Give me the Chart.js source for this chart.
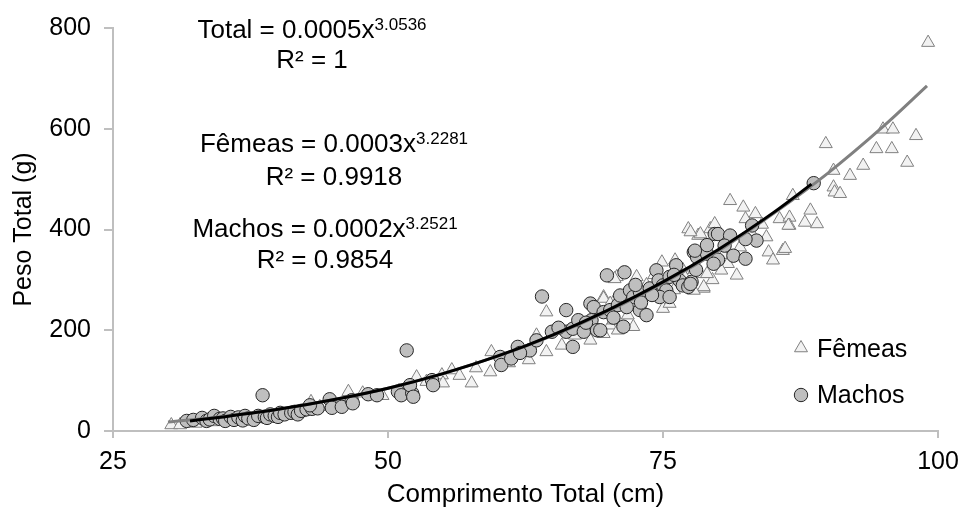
<!DOCTYPE html>
<html>
<head>
<meta charset="utf-8">
<script src="https://cdn.jsdelivr.net/npm/chart.js@4.4.1/dist/chart.umd.min.js"></script>
<style>
  body { margin: 0; background: #fff; }
  #wrap { width: 970px; height: 516px; }
</style>
</head>
<body>
<div id="wrap"><canvas id="chart" width="970" height="516"></canvas></div>
<script>
// Fêmeas (triângulos)
const femeasX = [30.3, 31.1, 32.5, 34, 36, 38, 40, 42, 43.5, 43.8, 43, 46.4, 47.7, 49.5, 51, 52.6, 53.5, 54.9, 55.8, 55, 57.6,
  56.5, 58, 61, 65.8, 67, 71.8,
  64.4, 63.5, 64.4, 62.8, 59.4, 59.3, 69.6, 70.8, 68.4, 70.2, 70.5,
  77.3, 78.2, 79.3, 70.6, 72.6, 74.9, 76.1, 78.4, 78.7, 69.6, 70.2, 70.5, 72.3, 75, 75.6, 69.6, 70.9,
  73.5, 74.2, 76.8, 77, 79.5, 80.5, 82, 83, 84, 76,
  81.1, 82.3, 83.4, 82.5, 85.6, 86.5, 86.5, 84.4, 85.9, 84.6, 85, 79.7, 78.4, 77.5, 80.9, 81.7, 80.3, 79, 78.7, 77.8,
  90.5, 92, 93.2, 90.5, 90.6, 86.8, 88.4, 86.4, 87.9, 89, 86.1, 89.8,
  99.1, 95, 95.9, 98, 94.4, 95.8, 97.2, 91.1];
const femeasY = [12, 12, 15, 18, 20, 24, 30, 36, 44, 48, 58, 78, 75, 70, 80, 107, 98, 111, 121, 95, 95,
  110, 125, 135, 170, 190, 230,
  236, 190, 157, 141, 157, 117, 266, 306, 180, 210, 256,
  401, 388, 401, 302, 306, 335, 339, 312, 283, 263, 253, 220, 207, 243, 253, 193, 200,
  290, 310, 320, 305, 300, 350, 365, 395, 410, 280,
  457, 444, 431, 421, 421, 424, 408, 385, 358, 355, 339, 411, 391, 395, 332, 309, 319, 312, 286, 279,
  517, 507, 527, 484, 474, 467, 438, 408, 414, 411, 362, 570,
  771, 599, 599, 586, 560, 560, 533, 471];

// Machos (círculos)
const machosX = [31.7, 32.3, 33.1, 33.5, 33.8, 34.2, 34.7, 35, 35.2, 35.7, 36, 36.4, 36.8, 37, 37.3, 37.8, 38.2, 38.6, 38.8, 39,
  39.3, 39.7, 40, 40.2, 40.6, 41.2, 41.5, 41.8, 42.1, 42.6, 43.1, 43.6,
  42.9, 44.7, 44.9, 45.8, 46.7, 46.8, 48.2, 49, 50.9, 51.2, 52.2, 52, 52.3, 54, 54.1, 51.7,
  60.2, 60.3, 61.2, 61.8, 62.9, 64, 64.9, 66.2, 66.2, 66.8, 66.8, 67.3, 67.8, 68.4, 68.7, 68.5, 69, 69.6, 70.2, 70.9, 69.9,
  71.5, 74.4, 76.2, 77.8, 78.1, 79, 79, 79.7, 71.1, 72, 72.3, 72.9, 73.8, 74.6, 75, 75.3, 75.6, 76.5, 76.8, 77.3, 77.6,
  71.7, 72.9, 73.5, 71.4, 69.3, 74.7, 75.6,
  73, 74, 76, 78, 80, 72.5, 70.5, 68, 65.5, 63.5, 62,
  80, 81.1, 83.1, 83.5, 82.5, 80.6, 77.9, 79.6, 81.4, 82.5, 77.5, 88.7];
const machosY = [20, 22, 26, 20, 23, 30, 24, 25, 20, 28, 22, 27, 21, 30, 25, 22, 30, 71, 28, 26,
  33, 30, 28, 36, 33, 36, 38, 33, 40, 43, 44, 45,
  51, 63, 46, 48, 61, 55, 73, 71, 78, 71, 75, 91, 68, 101, 91, 160,
  147, 131, 144, 167, 160, 267, 197, 240, 197, 203, 167, 220, 197, 253, 246, 220, 200, 236, 240, 250, 309,
  315, 319, 329, 355, 345, 352, 369, 391, 269, 279, 266, 276, 283, 299, 289, 279, 306, 299, 289, 286, 296,
  246, 240, 230, 207, 200, 266, 266,
  255, 270, 310, 320, 340, 290, 225, 215, 205, 180, 155,
  391, 388, 408, 378, 381, 368, 358, 332, 348, 342, 292, 492];

// linhas de tendência
const trendFemX = [30, 35, 40, 45, 50, 55, 60, 65, 70, 75, 80, 85, 90, 95, 99];
const trendFemY = [18, 29, 43, 62, 85, 114, 149, 190, 238, 294, 357, 431, 512, 604, 685];
const trendMacX = [32, 35, 40, 45, 50, 55, 60, 65, 70, 75, 80, 85, 88.5];
const trendMacY = [20, 28, 43, 62, 85, 114, 149, 191, 240, 296, 360, 433, 490];

const xTicks = [25, 50, 75, 100];
const yTicks = [0, 200, 400, 600, 800];

const eqMain = ['Total = 0.0005x', 'R² = 1', 'Fêmeas = 0.0003x', 'R² = 0.9918', 'Machos = 0.0002x', 'R² = 0.9854'];
const eqSup = ['3.0536', '', '3.2281', '', '3.2521', ''];

const FONT = '"Liberation Sans", Arial, sans-serif';
const toPts = (xs, ys) => xs.map((x, i) => ({ x: x, y: ys[i] }));

// texto das equações + legenda
const textPlugin = {
  id: 'eqText',
  afterDraw(chart) {
    const ctx = chart.ctx;
    const baselines = [38, 68, 152, 185, 237, 268];
    const centers = [312, 312, 334, 334, 325, 325];
    ctx.save();
    ctx.fillStyle = '#000';
    ctx.textBaseline = 'alphabetic';
    ctx.textAlign = 'left';
    eqMain.forEach((t, i) => {
      ctx.font = '26px ' + FONT;
      const w1 = ctx.measureText(t).width;
      ctx.font = '17px ' + FONT;
      const w2 = eqSup[i] ? ctx.measureText(eqSup[i]).width : 0;
      const x0 = centers[i] - (w1 + w2) / 2;
      ctx.font = '26px ' + FONT;
      ctx.fillText(t, x0, baselines[i]);
      if (eqSup[i]) {
        ctx.font = '17px ' + FONT;
        ctx.fillText(eqSup[i], x0 + w1, baselines[i] - 8);
      }
    });

    // legenda
    ctx.lineWidth = 1;
    ctx.beginPath();
    const tx = 801, ty = 348, r = 7.5;
    ctx.moveTo(tx, ty - r);
    ctx.lineTo(tx + r * 0.866, ty + r * 0.5);
    ctx.lineTo(tx - r * 0.866, ty + r * 0.5);
    ctx.closePath();
    ctx.fillStyle = '#f2f2f2';
    ctx.strokeStyle = '#808080';
    ctx.fill();
    ctx.stroke();

    ctx.beginPath();
    ctx.arc(801, 395, 6.7, 0, Math.PI * 2);
    ctx.fillStyle = '#bfbfbf';
    ctx.strokeStyle = '#262626';
    ctx.fill();
    ctx.stroke();

    ctx.fillStyle = '#000';
    ctx.font = '25px ' + FONT;
    ctx.fillText('Fêmeas', 817, 357);
    ctx.fillText('Machos', 817, 403);
    ctx.restore();
  }
};

new Chart(document.getElementById('chart'), {
  type: 'scatter',
  data: {
    datasets: [
      {
        label: 'Tendência Machos',
        data: toPts(trendMacX, trendMacY),
        showLine: true,
        borderColor: '#000',
        borderWidth: 3,
        pointRadius: 0,
        cubicInterpolationMode: 'monotone',
        order: 0
      },
      {
        label: 'Tendência Fêmeas',
        data: toPts(trendFemX, trendFemY),
        showLine: true,
        borderColor: '#808080',
        borderWidth: 3,
        pointRadius: 0,
        cubicInterpolationMode: 'monotone',
        order: 1
      },
      {
        label: 'Machos',
        data: toPts(machosX, machosY),
        pointStyle: 'circle',
        pointRadius: 6.7,
        backgroundColor: '#bfbfbf',
        borderColor: '#262626',
        borderWidth: 1,
        order: 2
      },
      {
        label: 'Fêmeas',
        data: toPts(femeasX, femeasY),
        pointStyle: 'triangle',
        pointRadius: 7.5,
        backgroundColor: '#f2f2f2',
        borderColor: '#808080',
        borderWidth: 1,
        order: 3
      }
    ]
  },
  options: {
    responsive: false,
    animation: false,
    devicePixelRatio: 1,
    layout: { padding: { top: 27, right: 32, left: 0, bottom: 0 } },
    plugins: {
      legend: { display: false },
      tooltip: { enabled: false }
    },
    scales: {
      x: {
        type: 'linear',
        min: 25,
        max: 100,
        afterFit: function(s) { s.height = 85; },
        afterBuildTicks: function(s) { s.ticks = xTicks.map(v => ({ value: v })); },
        ticks: { color: '#000', font: { size: 25, family: FONT }, padding: 9, maxRotation: 0 },
        grid: { drawOnChartArea: false, drawTicks: true, tickLength: 7, color: '#bfbfbf', lineWidth: 2 },
        border: { display: true, color: '#bfbfbf', width: 2 },
        title: { display: true, text: 'Comprimento Total (cm)', color: '#000', font: { size: 26, family: FONT }, padding: { top: 0, bottom: 6 } }
      },
      y: {
        min: 0,
        max: 800,
        afterFit: function(s) { s.width = 113; },
        afterBuildTicks: function(s) { s.ticks = yTicks.map(v => ({ value: v })); },
        ticks: { color: '#000', font: { size: 25, family: FONT }, padding: 13 },
        grid: { drawOnChartArea: false, drawTicks: true, tickLength: 9, color: '#bfbfbf', lineWidth: 2 },
        border: { display: true, color: '#bfbfbf', width: 2 },
        title: { display: true, text: 'Peso Total (g)', color: '#000', font: { size: 25, family: FONT }, padding: { top: 9, bottom: 0 } }
      }
    }
  },
  plugins: [textPlugin]
});
</script>
</body>
</html>
